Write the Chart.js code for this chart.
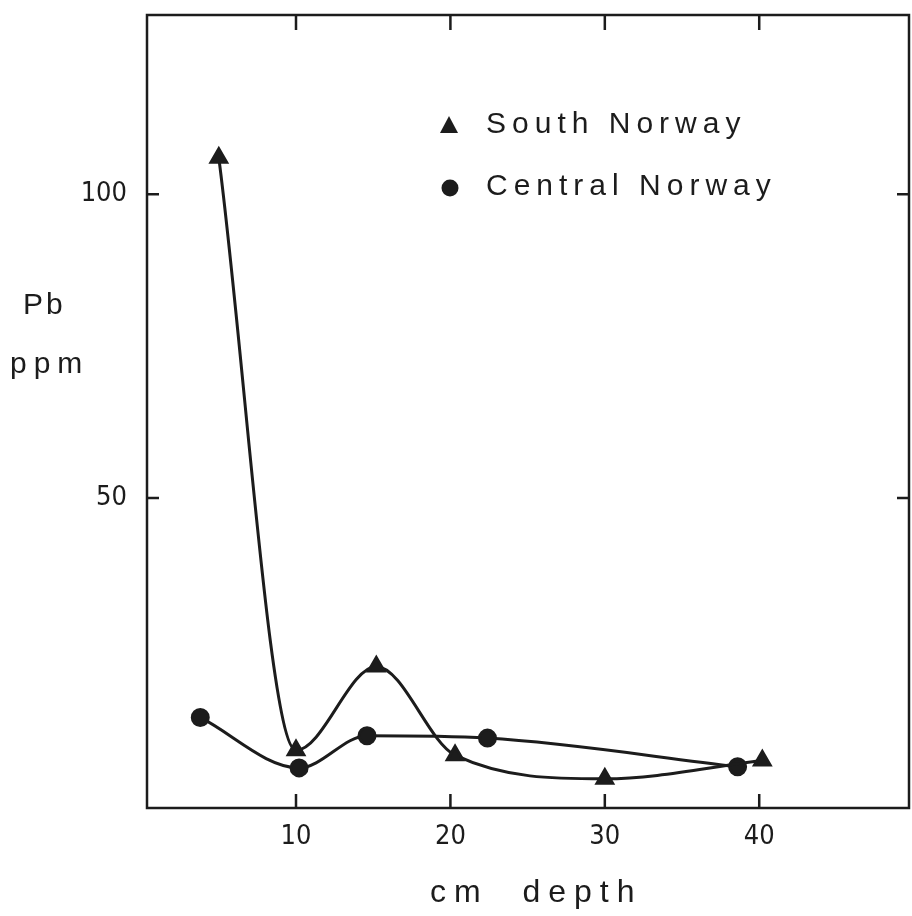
<!DOCTYPE html>
<html>
<head>
<meta charset="utf-8">
<script src="https://cdn.jsdelivr.net/npm/chart.js@4.4.0/dist/chart.umd.min.js"></script>
<style>
  html, body { margin: 0; padding: 0; background: #fff; }
  #wrap { width: 912px; height: 916px; }
</style>
</head>
<body>
<div id="wrap"><canvas id="myChart" width="912" height="916"></canvas></div>
<script>
// depth (cm) and Pb (ppm)
let southDepth = [5, 10, 15.2, 20.3, 30, 40.2];
let southPb = [106, 8.5, 22.3, 7.7, 3.8, 6.8];
let centralDepth = [3.8, 10.2, 14.6, 22.4, 38.6];
let centralPb = [13.9, 5.6, 10.9, 10.5, 5.8];
let xTicks = [10, 20, 30, 40];
let yTicks = [50, 100];
let seriesNames = ['South Norway', 'Central Norway'];

let ink = '#1c1c1c';
let tickFont = '"DejaVu Sans Condensed", "Liberation Sans Narrow", sans-serif';

let toPoints = (xs, ys) => xs.map((x, i) => ({ x: x, y: ys[i] }));

// box + inward tick marks on all four sides, legend and axis titles
let framePlugin = {
    id: 'frame',
    afterDraw(chart) {
        let ctx = chart.ctx;
        let a = chart.chartArea;
        let xs = chart.scales.x;
        let ys = chart.scales.y;
        ctx.save();
        ctx.strokeStyle = ink;
        ctx.lineWidth = 2.5;
        ctx.strokeRect(a.left, a.top, a.right - a.left, a.bottom - a.top);
        xTicks.forEach(v => {
            let px = xs.getPixelForValue(v);
            ctx.beginPath();
            ctx.moveTo(px, a.bottom); ctx.lineTo(px, a.bottom - 14);
            ctx.moveTo(px, a.top); ctx.lineTo(px, a.top + 15);
            ctx.stroke();
        });
        yTicks.forEach(v => {
            let py = ys.getPixelForValue(v);
            ctx.beginPath();
            ctx.moveTo(a.left, py); ctx.lineTo(a.left + 12, py);
            ctx.moveTo(a.right, py); ctx.lineTo(a.right - 12, py);
            ctx.stroke();
        });

        // legend
        ctx.fillStyle = ink;
        ctx.font = '30px "Liberation Sans", Arial, sans-serif';
        ctx.textBaseline = 'middle';
        ctx.letterSpacing = '6px';
        ctx.beginPath();
        ctx.moveTo(449, 116); ctx.lineTo(458, 133); ctx.lineTo(440, 133);
        ctx.closePath(); ctx.fill();
        ctx.fillText(seriesNames[0], 486, 125);
        ctx.beginPath();
        ctx.arc(450, 188, 8.5, 0, Math.PI * 2); ctx.fill();
        ctx.fillText(seriesNames[1], 486, 187);

        // axis titles
        ctx.textAlign = 'left';
        ctx.letterSpacing = '3px';
        ctx.fillText('Pb', 23, 306);
        ctx.letterSpacing = '7px';
        ctx.fillText('ppm', 10, 365);
        ctx.font = '32px "Liberation Sans", Arial, sans-serif';
        ctx.letterSpacing = '8px';
        ctx.fillText('cm  depth', 430, 893);
        ctx.restore();
    }
};

let ctx = document.getElementById('myChart').getContext('2d');
let myChart = new Chart(ctx, {
    type: 'line',
    data: {
        datasets: [{
            label: seriesNames[0],
            data: toPoints(southDepth, southPb),
            borderColor: ink,
            backgroundColor: ink,
            borderWidth: 3,
            pointStyle: 'triangle',
            pointRadius: 9,
            cubicInterpolationMode: 'monotone'
        }, {
            label: seriesNames[1],
            data: toPoints(centralDepth, centralPb),
            borderColor: ink,
            backgroundColor: ink,
            borderWidth: 3,
            pointStyle: 'circle',
            pointRadius: 8,
            cubicInterpolationMode: 'monotone'
        }]
    },
    options: {
        responsive: false,
        animation: false,
        layout: { autoPadding: false, padding: { top: 15, right: 3, left: 0, bottom: 0 } },
        plugins: {
            legend: { display: false },
            tooltip: { enabled: false }
        },
        scales: {
            x: {
                type: 'linear',
                min: 0.35,
                max: 49.7,
                afterBuildTicks: s => { s.ticks = xTicks.map(v => ({ value: v })); },
                afterFit: s => { s.height = 108; s.paddingLeft = 0; s.paddingRight = 0; },
                grid: { display: false },
                border: { display: false },
                ticks: {
                    color: ink,
                    padding: 5,
                    maxRotation: 0,
                    font: { family: tickFont, size: 27 }
                }
            },
            y: {
                min: -1,
                max: 129.5,
                afterBuildTicks: s => { s.ticks = yTicks.map(v => ({ value: v })); },
                afterFit: s => { s.width = 147; s.paddingTop = 0; s.paddingBottom = 0; },
                grid: { display: false },
                border: { display: false },
                ticks: {
                    color: ink,
                    padding: 12,
                    font: { family: tickFont, size: 27 }
                }
            }
        }
    },
    plugins: [framePlugin]
});
</script>
</body>
</html>
